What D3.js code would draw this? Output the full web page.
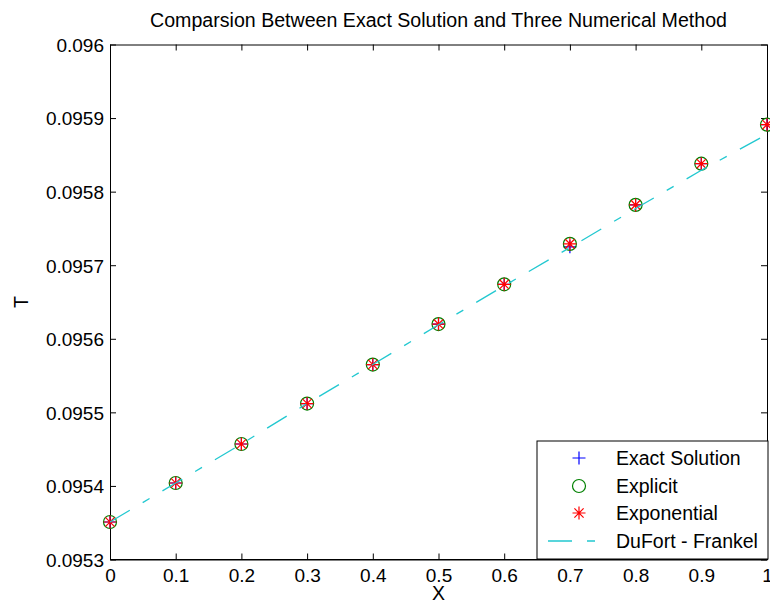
<!DOCTYPE html>
<html>
<head>
<meta charset="utf-8">
<script src="https://cdn.jsdelivr.net/npm/d3@7"></script>
<style>
  body { margin: 0; background: #fff; }
  svg { display: block; font-family: "Liberation Sans", Arial, sans-serif; }
</style>
</head>
<body>
<div id="chart"></div>
<script>
// data
const xValues = [0, 0.1, 0.2, 0.3, 0.4, 0.5, 0.6, 0.7, 0.8, 0.9, 1]
const exactT = [0.095351, 0.095404, 0.095457, 0.095512, 0.095565, 0.095620, 0.095674, 0.095725, 0.095782, 0.095838, 0.095891]
const explicitT = [0.095351, 0.095404, 0.095457, 0.095512, 0.095565, 0.095620, 0.095674, 0.095729, 0.095782, 0.095838, 0.095891]
const exponentialT = [0.095351, 0.095404, 0.095457, 0.095512, 0.095565, 0.095620, 0.095674, 0.095729, 0.095782, 0.095838, 0.095891]
const dufortT = [0.095351, 0.095404, 0.095457, 0.095512, 0.095565, 0.095619, 0.095672, 0.095724, 0.095777, 0.095829, 0.095878]

const xTicks = [0, 0.1, 0.2, 0.3, 0.4, 0.5, 0.6, 0.7, 0.8, 0.9, 1]
const xTickLabels = ['0', '0.1', '0.2', '0.3', '0.4', '0.5', '0.6', '0.7', '0.8', '0.9', '1']
const yTicks = [0.0953, 0.0954, 0.0955, 0.0956, 0.0957, 0.0958, 0.0959, 0.096]
const yTickLabels = ['0.0953', '0.0954', '0.0955', '0.0956', '0.0957', '0.0958', '0.0959', '0.096']

const legendNames = ['Exact Solution', 'Explicit', 'Exponential', 'DuFort - Frankel']

let width = 770, height = 611
let plotLeft = 110, plotRight = 767, plotTop = 44.5, plotBottom = 559.5

let svg = d3.select('#chart').append('svg')
    .attr('width', width).attr('height', height)

let x = d3.scaleLinear().domain([0, 1]).range([plotLeft, plotRight])
let y = d3.scaleLinear().domain([0.0953, 0.096]).range([plotBottom, plotTop])

// title
svg.append('text').attr('x', (plotLeft + plotRight) / 2).attr('y', 27)
    .attr('text-anchor', 'middle').style('font-size', '19.6px')
    .text('Comparsion Between Exact Solution and Three Numerical Method')

// axes, ticks pointing inwards on all four sides
let axB = d3.axisBottom(x).tickValues(xTicks).tickSizeInner(-6).tickSizeOuter(0)
    .tickFormat((d, i) => xTickLabels[i])
let axT = d3.axisTop(x).tickValues(xTicks).tickSizeInner(-6).tickSizeOuter(0).tickFormat('')
let axL = d3.axisLeft(y).tickValues(yTicks).tickSizeInner(-6).tickSizeOuter(0)
    .tickFormat((d, i) => yTickLabels[i])
let axR = d3.axisRight(y).tickValues(yTicks).tickSizeInner(-6).tickSizeOuter(0).tickFormat('')

function styleAxis(g){
    g.select('.domain').attr('stroke', '#000').attr('stroke-width', 1)
    g.selectAll('.tick line').attr('stroke', '#000')
    g.selectAll('.tick text').attr('fill', '#000').style('font-size', '19px')
        .style('font-family', '"Liberation Sans", Arial, sans-serif')
}

svg.append('g').attr('transform', `translate(0,${plotTop})`).call(axT).call(styleAxis)
svg.append('g').attr('transform', `translate(${plotRight},0)`).call(axR).call(styleAxis)
let gB = svg.append('g').attr('transform', `translate(0,${plotBottom})`).call(axB).call(styleAxis)
gB.selectAll('.tick text').attr('y', 0).attr('dy', '22.5px')
let gL = svg.append('g').attr('transform', `translate(${plotLeft},0)`).call(axL).call(styleAxis)
gL.selectAll('.tick text').attr('x', -6).attr('dy', '6.8px')

// axis labels
svg.append('text').attr('x', (plotLeft + plotRight) / 2).attr('y', 600)
    .attr('text-anchor', 'middle').style('font-size', '19.5px').text('X')
svg.append('text').attr('transform', `translate(28,${(plotTop + plotBottom) / 2}) rotate(-90)`)
    .attr('text-anchor', 'middle').style('font-size', '19.5px').text('T')

// marker shapes
let plusPath = 'M-6.5,0H6.5M0,-6.5V6.5'
let starPath = 'M-6.5,0H6.5M0,-6.5V6.5M-4.6,-4.6L4.6,4.6M-4.6,4.6L4.6,-4.6'

let plot = svg.append('g')

plot.selectAll('path.exact').data(xValues).join('path')
    .attr('class', 'exact')
    .attr('transform', (d, i) => `translate(${x(d)},${y(exactT[i])})`)
    .attr('d', plusPath).attr('stroke', '#0000ff').attr('stroke-width', 1.2).attr('fill', 'none')

plot.selectAll('circle.explicit').data(xValues).join('circle')
    .attr('class', 'explicit')
    .attr('cx', d => x(d)).attr('cy', (d, i) => y(explicitT[i])).attr('r', 6.5)
    .attr('stroke', '#008000').attr('stroke-width', 1.2).attr('fill', 'none')

plot.selectAll('path.expo').data(xValues).join('path')
    .attr('class', 'expo')
    .attr('transform', (d, i) => `translate(${x(d)},${y(exponentialT[i])})`)
    .attr('d', starPath).attr('stroke', '#ff0000').attr('stroke-width', 1.2).attr('fill', 'none')

let line = d3.line().x(d => x(d[0])).y(d => y(d[1]))
plot.append('path')
    .datum(xValues.map((d, i) => [d, dufortT[i]]))
    .attr('d', line).attr('fill', 'none')
    .attr('stroke', '#22c8d0').attr('stroke-width', 1.3)
    .attr('stroke-dasharray', '23,15,8,15')

// legend box
let lg = svg.append('g')
lg.append('rect').attr('x', 537).attr('y', 441).attr('width', 231).attr('height', 118)
    .attr('fill', '#fff').attr('stroke', '#000').attr('stroke-width', 1)

let rowY = [458, 486, 513, 541]
let symX = 579
lg.append('path').attr('transform', `translate(${symX},${rowY[0]})`).attr('d', plusPath)
    .attr('stroke', '#0000ff').attr('stroke-width', 1.2).attr('fill', 'none')
lg.append('circle').attr('cx', symX).attr('cy', rowY[1]).attr('r', 6.5)
    .attr('stroke', '#008000').attr('stroke-width', 1.2).attr('fill', 'none')
lg.append('path').attr('transform', `translate(${symX},${rowY[2]})`).attr('d', starPath)
    .attr('stroke', '#ff0000').attr('stroke-width', 1.2).attr('fill', 'none')
lg.append('line').attr('x1', 548).attr('x2', 596).attr('y1', rowY[3]).attr('y2', rowY[3])
    .attr('stroke', '#22c8d0').attr('stroke-width', 1.3).attr('stroke-dasharray', '24,15,8,15')

lg.selectAll('text.lab').data(legendNames).join('text')
    .attr('class', 'lab')
    .attr('x', 616).attr('y', (d, i) => rowY[i] + 7)
    .style('font-size', '19.5px').text(d => d)

// box line redrawn over the legend edge at the bottom
svg.append('line').attr('x1', plotLeft).attr('x2', plotRight).attr('y1', plotBottom).attr('y2', plotBottom)
    .attr('stroke', '#000').attr('stroke-width', 1)
</script>
</body>
</html>
